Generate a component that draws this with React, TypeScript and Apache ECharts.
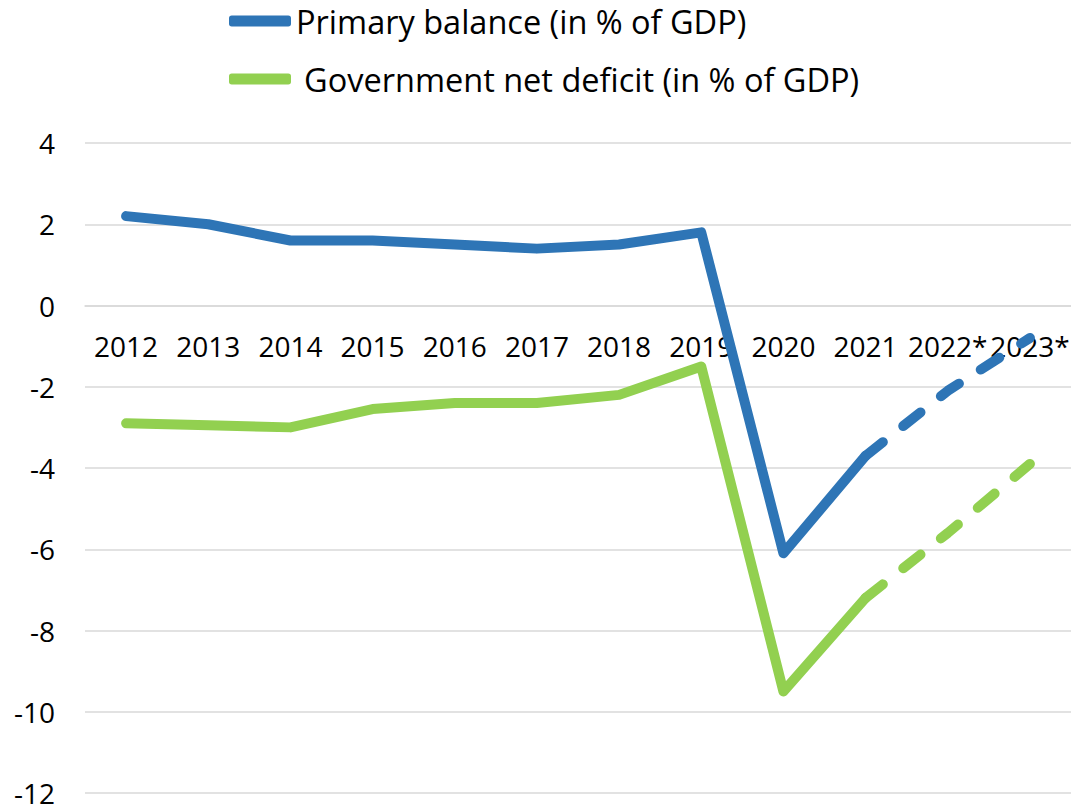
import React, { useEffect, useRef } from "react";
import * as echarts from "echarts";

const years = ["2012", "2013", "2014", "2015", "2016", "2017", "2018", "2019", "2020", "2021", "2022*", "2023*"];
const primaryBalance = [2.2, 2.0, 1.6, 1.6, 1.5, 1.4, 1.5, 1.8, -6.1, -3.7, -2.1, -0.8];
const netDeficit = [-2.9, -2.95, -3.0, -2.55, -2.4, -2.4, -2.2, -1.5, -9.5, -7.2, -5.6, -3.9];
const yMin = -12;
const yMax = 4;
const yStep = 2;
// index of the first year drawn as a projection (dashed from here on)
const projectionFrom = 9;

const PRIMARY_NAME = "Primary balance (in % of GDP)";
const DEFICIT_NAME = "Government net deficit (in % of GDP)";
const BLUE = "#2E75B6";
const GREEN = "#92D050";
const FONT = "'Open Sans', 'Noto Sans', sans-serif";

const GRID_TOP = 143;
const GRID_BOTTOM = 15;
const HEIGHT = 808;

const actual = (arr: number[]) => arr.map((v, i) => (i <= projectionFrom ? v : null));
const projected = (arr: number[]) => arr.map((v, i) => (i >= projectionFrom ? v : null));

export default function App() {
  const ref = useRef<HTMLDivElement>(null);

  useEffect(() => {
    if (!ref.current) return;
    const chart = echarts.init(ref.current, undefined, { renderer: "svg" });

    // the category axis sits on the zero line: shift it up from the grid's bottom edge
    const plotHeight = HEIGHT - GRID_TOP - GRID_BOTTOM;
    const zeroOffset = -plotHeight * (0 - yMin) / (yMax - yMin);

    const lineStyle = (color: string, dashed: boolean) => ({
      color,
      width: 10,
      cap: "round" as const,
      join: "round" as const,
      type: dashed ? [22, 26] : "solid",
    });

    chart.setOption({
      animation: false,
      backgroundColor: "#ffffff",
      legend: {
        orient: "vertical",
        left: 224,
        top: 0,
        padding: [4, 5],
        itemWidth: 62,
        itemHeight: 11,
        itemGap: 24,
        icon: "roundRect",
        selectedMode: false,
        textStyle: { fontFamily: FONT, fontSize: 32.5, color: "#000", lineHeight: 34 },
        data: [
          { name: PRIMARY_NAME, itemStyle: { color: BLUE } },
          { name: DEFICIT_NAME, itemStyle: { color: GREEN }, textStyle: { padding: [0, 0, 0, 8] } },
        ],
      },
      grid: { left: 85, right: 0, top: GRID_TOP, bottom: GRID_BOTTOM, outerBoundsMode: "none", containLabel: false },
      xAxis: {
        type: "category",
        data: years,
        boundaryGap: true,
        position: "bottom",
        offset: zeroOffset,
        axisLine: { show: true, onZero: false, lineStyle: { color: "#d9d9d9", width: 1.5 } },
        axisTick: { show: false },
        axisLabel: {
          interval: 0,
          margin: 26,
          fontFamily: FONT,
          fontSize: 28,
          color: "#000",
        },
      },
      yAxis: {
        type: "value",
        min: yMin,
        max: yMax,
        interval: yStep,
        axisLine: { show: false },
        axisTick: { show: false },
        axisLabel: { margin: 30, fontFamily: FONT, fontSize: 28, lineHeight: 22, color: "#000" },
        splitLine: { lineStyle: { color: "#d9d9d9", width: 1.5 } },
      },
      series: [
        {
          name: PRIMARY_NAME,
          type: "line",
          data: actual(primaryBalance),
          symbol: "none",
          color: BLUE,
          lineStyle: lineStyle(BLUE, false),
          z: 3,
        },
        {
          name: PRIMARY_NAME + " projection",
          type: "line",
          data: projected(primaryBalance),
          symbol: "none",
          color: BLUE,
          lineStyle: lineStyle(BLUE, true),
          z: 3,
        },
        {
          name: DEFICIT_NAME,
          type: "line",
          data: actual(netDeficit),
          symbol: "none",
          color: GREEN,
          lineStyle: lineStyle(GREEN, false),
          z: 2,
        },
        {
          name: DEFICIT_NAME + " projection",
          type: "line",
          data: projected(netDeficit),
          symbol: "none",
          color: GREEN,
          lineStyle: lineStyle(GREEN, true),
          z: 2,
        },
      ],
    });

    return () => chart.dispose();
  }, []);

  return (
    <div
      ref={ref}
      style={{ position: "absolute", left: 0, top: 0, width: 1071, height: HEIGHT, background: "#fff" }}
    />
  );
}
